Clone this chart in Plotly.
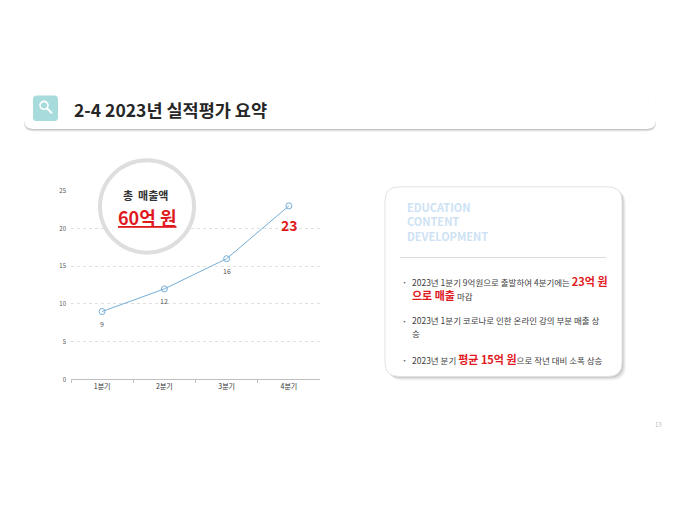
import plotly.graph_objects as go

categories = ["1분기", "2분기", "3분기", "4분기"]
sales = [9, 12, 16, 23]
label_text = ["9", "12", "16", ""]
y_ticks = [0, 5, 10, 15, 20, 25]

title = "2-4 2023년 실적평가 요약"
circle_top = "총 매출액"
circle_total = "60억 원"
card_head = ["EDUCATION", "CONTENT", "DEVELOPMENT"]
page_no = "13"

W, H = 680, 510
OFF = 8  # page body margin offset
FONT = "Noto Sans CJK KR"
RED = "#e0191e"
LINE = "#74aed8"

def px(x):
    return (x - OFF) / W

def py(y):
    return 1 - (y - OFF) / H

def rrect(x0, y0, x1, y1, r):
    X0, X1 = px(x0), px(x1)
    Y0, Y1 = py(y0), py(y1)
    rx, ry = r / W, r / H
    return (f"M{X0+rx},{Y0} L{X1-rx},{Y0} Q{X1},{Y0} {X1},{Y0-ry} L{X1},{Y1+ry} "
            f"Q{X1},{Y1} {X1-rx},{Y1} L{X0+rx},{Y1} Q{X0},{Y1} {X0},{Y1+ry} "
            f"L{X0},{Y0-ry} Q{X0},{Y0} {X0+rx},{Y0} Z")

fig = go.Figure()

fig.add_trace(go.Scatter(
    x=categories, y=sales, mode="lines+markers",
    line=dict(color=LINE, width=1),
    marker=dict(symbol="circle-open", size=6, color=LINE, line=dict(width=1)),
    hoverinfo="skip", showlegend=False, cliponaxis=False,
))

shapes = []
def S(**kw):
    d = dict(xref="paper", yref="paper")
    d.update(kw)
    shapes.append(d)

# header shadow + box
for off, op in [(3, 0.05), (2, 0.08), (1, 0.11)]:
    S(type="path", path=rrect(24, 88 + off, 656, 126 + off, 9),
      fillcolor=f"rgba(0,0,0,{op})", line=dict(width=0), layer="below")
S(type="path", path=rrect(24, 88, 656, 126, 9), fillcolor="white", line=dict(width=0), layer="below")
# icon
S(type="path", path=rrect(33, 92, 58, 118, 4), fillcolor="#a8dcdc", line=dict(width=0), layer="below")
S(type="circle", x0=px(40), y0=py(106), x1=px(48), y1=py(98),
  line=dict(color="white", width=1.6), layer="below")
S(type="line", x0=px(47), y0=py(105), x1=px(52), y1=py(110),
  line=dict(color="white", width=2), layer="below")
# card shadow + card
for off, op in [(4, 0.035), (3, 0.05), (2, 0.07), (1, 0.08)]:
    S(type="path", path=rrect(385 + off, 185 + off, 622 + off, 378 + off, 14),
      fillcolor=f"rgba(0,0,0,{op})", line=dict(width=0), layer="below")
S(type="path", path=rrect(385, 185, 622, 378, 14), fillcolor="white",
  line=dict(color="#e2e2e2", width=1), layer="below")
S(type="line", x0=px(400), y0=py(257), x1=px(606), y1=py(257),
  line=dict(color="#d9d9d9", width=1), layer="below")
# circle badge
S(type="circle", x0=px(100), y0=py(252), x1=px(194), y1=py(158),
  fillcolor="white", line=dict(color="#dedede", width=4), layer="above")

ann = []
def A(x, y, text, size, color="#222222", anchor="left", family=FONT, align="left"):
    ann.append(dict(xref="paper", yref="paper", x=px(x), y=py(y), text=text, showarrow=False,
                    xanchor=anchor, yanchor="middle", align=align,
                    font=dict(family=family, size=size, color=color)))

# data labels under points (positioned by data axes)
for c, v, t in zip(categories, sales, label_text):
    if t:
        ann.append(dict(xref="x", yref="y", x=c, y=v, text=t, showarrow=False,
                        yshift=-12, font=dict(family=FONT, size=7, color="#555555")))

A(72, 106, f"<b>{title}</b>", 17.5, "#262626")
A(145, 193, f"<b>{circle_top.replace(' ', '  ')}</b>", 11, "#333333", anchor="center")
A(147, 216, f"<b><u>{circle_total}</u></b>", 18, RED, anchor="center")
A(289, 224, "<b>23</b>", 14, RED, anchor="center")
A(405, 220, "<b>" + "<br>".join(card_head) + "</b>", 11, "#cde2f4")

def red(t, s=11):
    return f"<span style='color:{RED};font-size:{s}px'><b>{t}</b></span>"

body = "#404040"
for yb in (281, 321, 361):
    A(400, yb, "▪", 5, "#555555")
A(410, 281, "2023년 1분기 9억원으로 출발하여 4분기에는 " + red("23억 원"), 8.5, body)
A(410, 295, red("으로 매출") + " 마감", 8.5, body)
A(410, 321, "2023년 1분기 코로나로 인한 온라인 강의 부분 매출 상", 8.5, body)
A(410, 334, "승", 8.5, body)
A(410, 360, "2023년 분기 " + red("평균 15억 원") + "으로 작년 대비 소폭 상승", 8.5, body)
A(658, 427, page_no, 6, "#bbbbbb", anchor="center")

fig.update_layout(
    width=W, height=H, margin=dict(l=0, r=0, t=0, b=0),
    paper_bgcolor="white", plot_bgcolor="rgba(0,0,0,0)",
    shapes=shapes, annotations=ann,
    xaxis=dict(domain=[px(71), px(320)], type="category", range=[-0.5, 3.5],
               showgrid=False, showline=True, linecolor="#bfbfbf", linewidth=1,
               ticks="outside", ticklen=3, tickcolor="#bfbfbf", tickson="boundaries",
               tickfont=dict(family=FONT, size=7, color="#333333"), fixedrange=True),
    yaxis=dict(domain=[py(381), py(189)], range=[0, 25], tickvals=y_ticks,
               showgrid=True, gridcolor="#e0e0e0", griddash="3px,3px", gridwidth=1,
               zeroline=False, showline=False, fixedrange=True,
               tickfont=dict(family=FONT, size=6, color="#555555"), ticklabelstandoff=4),
)

fig.write_html("out.html")
